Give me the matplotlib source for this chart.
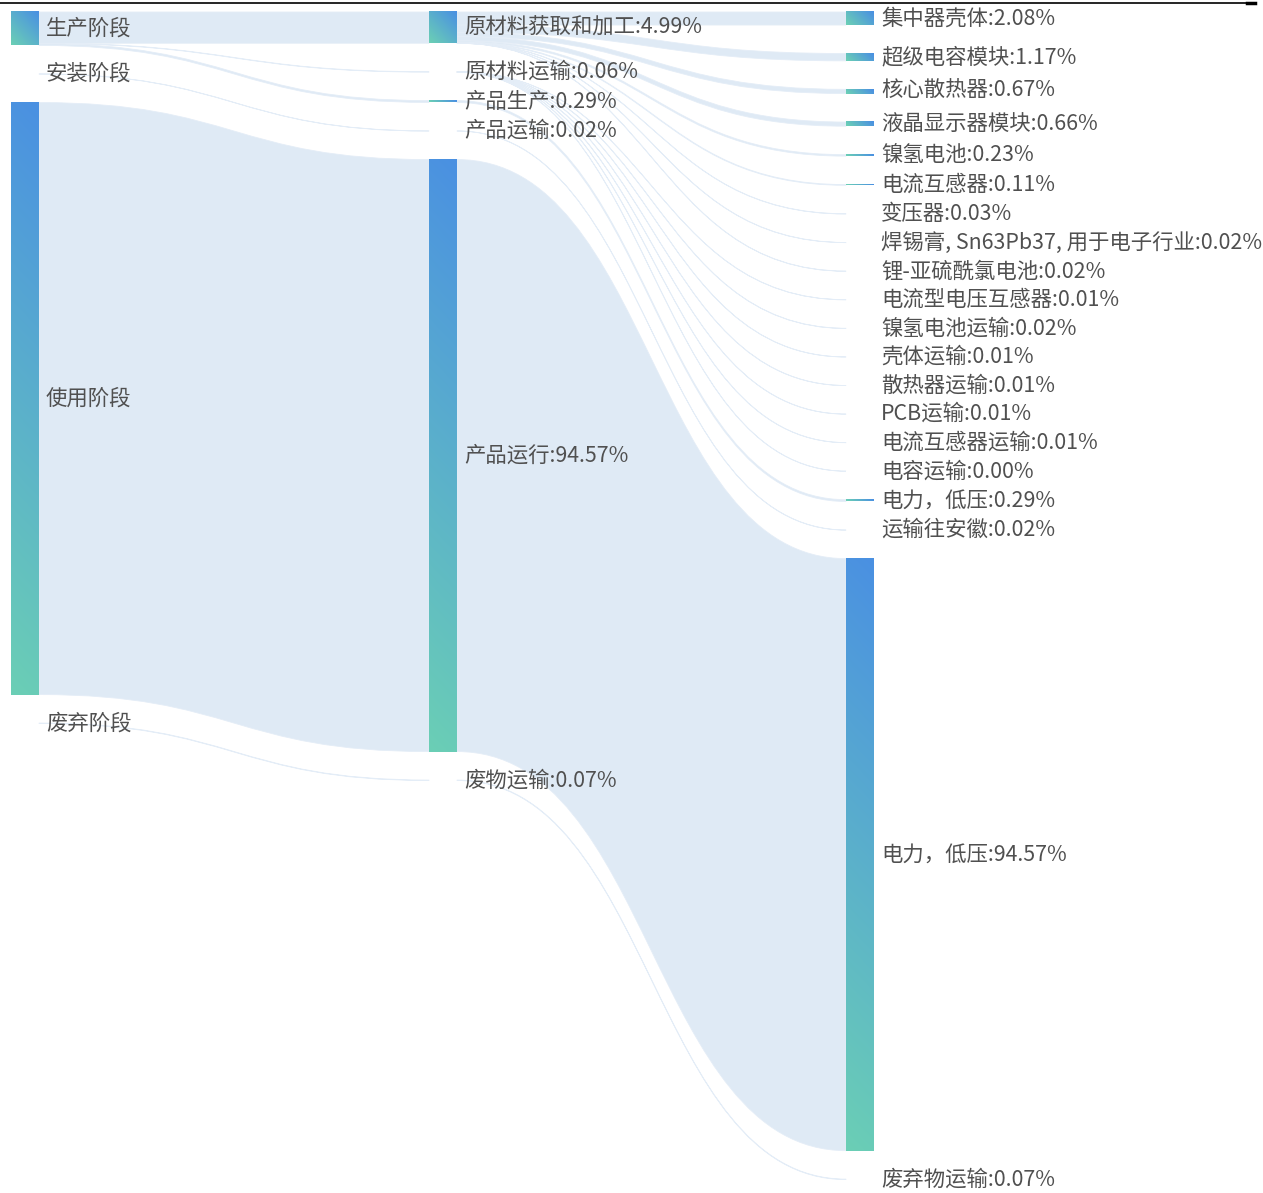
import numpy as np
import matplotlib.pyplot as plt
from matplotlib.path import Path
from matplotlib.patches import PathPatch

plt.rcParams['font.family'] = ['Noto Sans CJK SC', 'DejaVu Sans']

# three columns of the sankey, values are % of the total footprint
stages = ['生产阶段', '安装阶段', '使用阶段', '废弃阶段']
stage_values = [5.34, 0.02, 94.57, 0.07]

processes = ['原材料获取和加工', '原材料运输', '产品生产', '产品运输', '产品运行', '废物运输']
process_values = [4.99, 0.06, 0.29, 0.02, 94.57, 0.07]

items = ['集中器壳体', '超级电容模块', '核心散热器', '液晶显示器模块', '镍氢电池',
         '电流互感器', '变压器', '焊锡膏, Sn63Pb37, 用于电子行业', '锂-亚硫酰氯电池',
         '电流型电压互感器', '镍氢电池运输', '壳体运输', '散热器运输', 'PCB运输',
         '电流互感器运输', '电容运输', '电力，低压', '运输往安徽', '电力，低压', '废弃物运输']
item_values = [2.08, 1.17, 0.67, 0.66, 0.23, 0.11, 0.03, 0.02, 0.02, 0.01,
               0.02, 0.01, 0.01, 0.01, 0.01, 0.00, 0.29, 0.02, 94.57, 0.07]

# (source index, target index, value)
stage_links = [(0, 0, 4.99), (0, 1, 0.06), (0, 2, 0.29), (1, 3, 0.02),
               (2, 4, 94.57), (3, 5, 0.07)]
process_links = [(0, 0, 2.08), (0, 1, 1.17), (0, 2, 0.67), (0, 3, 0.66), (0, 4, 0.23),
                 (0, 5, 0.11), (0, 6, 0.03), (0, 7, 0.02), (0, 8, 0.02),
                 (1, 9, 0.01), (1, 10, 0.02), (1, 11, 0.01), (1, 12, 0.01), (1, 13, 0.01),
                 (1, 14, 0.01), (1, 15, 0.00), (2, 16, 0.29), (3, 17, 0.02),
                 (4, 18, 94.57), (5, 19, 0.07)]

W, H = 1263, 1193
col_x = [11, 429, 846]
node_w = 28
top = 12
scale = 6.26     # px per %
gap = 28.5
blue = np.array([0x4a, 0x90, 0xe2]) / 255
teal = np.array([0x6b, 0xcf, 0xb5]) / 255
link_color = '#dfeaf5'
text_color = '#505050'


def layout(values):
    ys = []
    y = top
    for v in values:
        ys.append((y, y + v * scale))
        y += v * scale + gap
    return ys


def draw_links(ax, links, src_pos, dst_pos, x0, x1):
    s_off = [p[0] for p in src_pos]
    t_off = [p[0] for p in dst_pos]
    xm = (x0 + x1) / 2
    for s, t, v in links:
        h = v * scale
        s0, t0 = s_off[s], t_off[t]
        s1, t1 = s0 + h, t0 + h
        s_off[s] += h
        t_off[t] += h
        verts = [(x0, s0), (xm, s0), (xm, t0), (x1, t0), (x1, t1),
                 (xm, t1), (xm, s1), (x0, s1), (x0, s0)]
        codes = [Path.MOVETO, Path.CURVE4, Path.CURVE4, Path.CURVE4, Path.LINETO,
                 Path.CURVE4, Path.CURVE4, Path.CURVE4, Path.CLOSEPOLY]
        ax.add_patch(PathPatch(Path(verts, codes), facecolor=link_color,
                               edgecolor='#e4edf7', lw=0.6, zorder=1))


def draw_nodes(ax, x, pos, labels, values=None):
    for i, (y0, y1) in enumerate(pos):
        h = y1 - y0
        if h > 0.6:
            ny = max(int(h), 2)
            xx, yy = np.meshgrid(np.linspace(0, node_w, 20), np.linspace(0, h, ny))
            t = ((node_w - xx) + yy) / (node_w + h)
            img = blue[None, None, :] * (1 - t[..., None]) + teal[None, None, :] * t[..., None]
            ax.imshow(img, extent=(x, x + node_w, y1, y0), origin='upper',
                      aspect='auto', interpolation='bilinear', zorder=2)
        text = labels[i] if values is None else f'{labels[i]}:{values[i]:.2f}%'
        ax.text(x + node_w + 7, (y0 + y1) / 2, text, fontsize=15.4, color=text_color,
                va='center', ha='left', zorder=3)


fig = plt.figure(figsize=(W / 100, H / 100), dpi=100)
ax = fig.add_axes([0, 0, 1, 1])

stage_pos = layout(stage_values)
process_pos = layout(process_values)
item_pos = layout(item_values)

draw_links(ax, stage_links, stage_pos, process_pos, col_x[0] + node_w, col_x[1])
draw_links(ax, process_links, process_pos, item_pos, col_x[1] + node_w, col_x[2])

draw_nodes(ax, col_x[0], stage_pos, stages)
draw_nodes(ax, col_x[1], process_pos, processes, process_values)
draw_nodes(ax, col_x[2], item_pos, items, item_values)

# border line left over from the screenshot
ax.plot([0, 1247], [2.5, 2.5], color='black', lw=1.2, zorder=4)
ax.plot([1247, 1255], [3, 3], color='black', lw=2.5, zorder=4)

ax.set_xlim(0, W)
ax.set_ylim(H, 0)
ax.axis('off')

fig.savefig('out.png', dpi=100)
